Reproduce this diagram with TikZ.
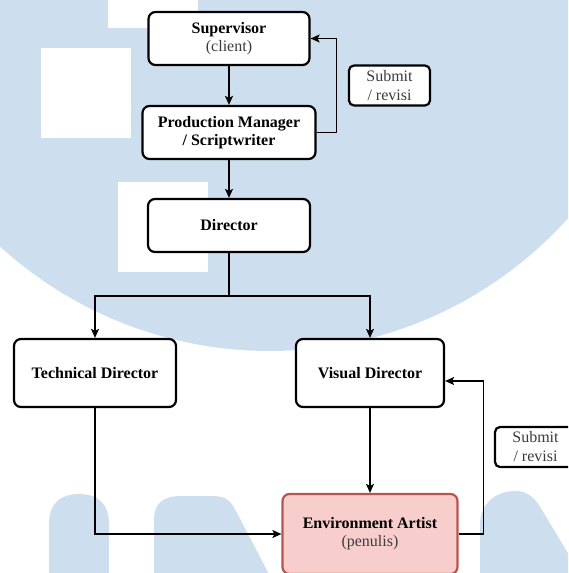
\documentclass[tikz,border=0pt]{standalone}
\usepackage{fontspec}
\setmainfont{Liberation Serif}
\usetikzlibrary{arrows.meta}

\definecolor{umnblue}{RGB}{205,223,238}
\definecolor{artfill}{RGB}{248,206,204}
\definecolor{artline}{RGB}{184,84,80}
\definecolor{subtext}{RGB}{60,60,60}

\begin{document}
\begin{tikzpicture}[x=1pt, y=-1pt,
  box/.style={draw, line width=2.2pt, rounded corners=7pt, fill=white, align=center,
    inner sep=0pt, font=\fontsize{16}{18}\selectfont\bfseries},
  note/.style={draw, line width=2.2pt, rounded corners=5pt, fill=white, align=center,
    inner sep=0pt, minimum width=81pt, minimum height=40pt, text=subtext,
    font=\fontsize{16}{19}\selectfont},
  link/.style={line width=1.4pt, -{Stealth[length=9pt,width=8pt,inset=2pt]}},
  plain/.style={line width=1.4pt}]
\clip (0,0) rectangle (568,573);

% watermark
\fill[umnblue] (270,-50) circle [radius=401];
\fill[white] (108,0) rectangle (198,28);
\fill[white] (41,48) rectangle (131,138);
\fill[white] (118,182) rectangle (208,272);
\fill[umnblue] (49,580) -- (49,524) .. controls (49,502) and (62,494) .. (79,494)
  .. controls (96,494) and (109,502) .. (109,524) -- (109,580) -- cycle;
\fill[umnblue] (154,580) -- (154,520) .. controls (154,502) and (164,496) .. (182,496)
  -- (212,496) .. controls (226,496) and (231,501) .. (236,511) -- (272,580) -- cycle;
\fill[umnblue] (480,580) -- (480,524) .. controls (480,503) and (497,491) .. (515,491)
  .. controls (528,491) and (535,498) .. (542,510) -- (584,580) -- cycle;

% boxes
\node[box, minimum width=161pt, minimum height=53pt] (sup) at (229,38.5)
  {Supervisor\\{\mdseries\color{subtext}(client)}};
\node[box, minimum width=173pt, minimum height=53pt] (pm) at (229,132.5)
  {Production Manager\\/ Scriptwriter};
\node[box, minimum width=162pt, minimum height=53pt] (dir) at (229,225.5) {Director};
\node[box, minimum width=162pt, minimum height=68pt] (td) at (95,373) {Technical Director};
\node[box, minimum width=148pt, minimum height=68pt] (vd) at (370,373) {Visual Director};
\node[box, minimum width=175pt, minimum height=80pt, fill=artfill, draw=artline] (ea) at (370,534)
  {Environment Artist\\{\mdseries\color{subtext}(penulis)}};

\node[note] (rev1) at (389.5,85.5) {Submit\\/ revisi};
\node[note] (rev2) at (535.5,447) {Submit\\/ revisi};

% connectors
\coordinate (split) at (229,296);
\draw[link] (sup) -- (pm);
\draw[link] (pm) -- (dir);
\draw[plain] (dir) -- (split);
\draw[link] (split) -| (td);
\draw[link] (split) -| (vd);
\draw[link] (pm.east) -- ++(20,0) |- (sup.east);
\draw[link] (td.south) |- (ea.west);
\draw[link] (vd) -- (ea);
\draw[link] (ea.east) -- ++(25,0) |- ([yshift=-8pt]vd.east);
\end{tikzpicture}
\end{document}
